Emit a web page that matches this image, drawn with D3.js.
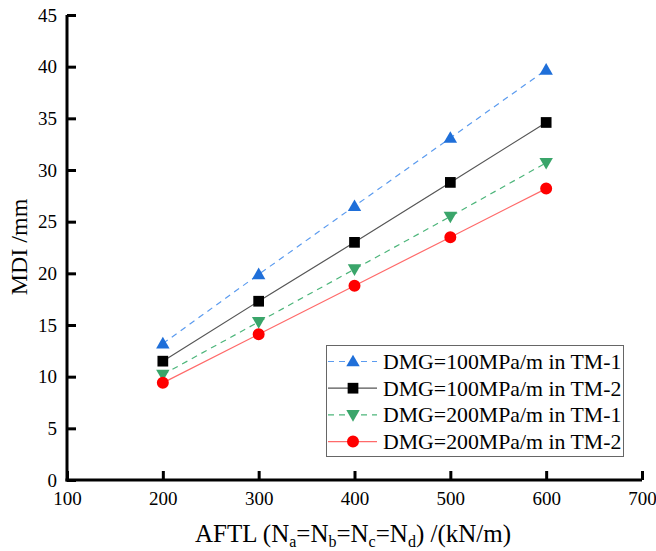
<!DOCTYPE html>
<html><head><meta charset="utf-8">
<script src="https://cdn.jsdelivr.net/npm/d3@7"></script>
<style>body{margin:0;background:#fff;}svg{display:block;} svg text{font-family:"Liberation Serif","Times New Roman",serif;}</style>
</head><body>
<script>
const xValues = [200, 300, 400, 500, 600];
const seriesNames = ["DMG=100MPa/m in TM-1", "DMG=100MPa/m in TM-2", "DMG=200MPa/m in TM-1", "DMG=200MPa/m in TM-2"];
const s1 = [13.2, 19.9, 26.5, 33.1, 39.7];
const s2 = [11.5, 17.3, 23.0, 28.8, 34.6];
const s3 = [10.2, 15.3, 20.4, 25.5, 30.7];
const s4 = [9.4, 14.1, 18.8, 23.5, 28.2];
const xTicks = [100, 200, 300, 400, 500, 600, 700];
const yTicks = [0, 5, 10, 15, 20, 25, 30, 35, 40, 45];

const styles = [
  {line:"#5b9bef", marker:"#1f6fd9", dash:"6,5", shape:"tri"},
  {line:"#555555", marker:"#000000", dash:null, shape:"sq"},
  {line:"#4cb57a", marker:"#3aa56a", dash:"6,5", shape:"tridown"},
  {line:"#ff6a6a", marker:"#ff0000", dash:null, shape:"circ"}
];
const allSeries = [s1, s2, s3, s4];

const W = 656, H = 551;
const svg = d3.select("body").append("svg").attr("width", W).attr("height", H);

const x = d3.scaleLinear().domain([100, 700]).range([67, 642]);
const y = d3.scaleLinear().domain([0, 45]).range([480, 15]);

function sym(shape){
  const m = {tri:[d3.symbolTriangle, 78], sq:[d3.symbolSquare, 115], tridown:[d3.symbolTriangle, 78], circ:[d3.symbolCircle, 113]};
  return d3.symbol().type(m[shape][0]).size(m[shape][1])();
}
function symT(shape, cx, cy){
  const dy = shape === "tri" ? 1 : shape === "tridown" ? -1 : 0;
  return `translate(${cx},${cy + dy})` + (shape === "tridown" ? " rotate(180)" : "");
}

// lines
allSeries.forEach((vals, i) => {
  const st = styles[i];
  const line = d3.line().x((d, j) => x(xValues[j])).y(d => y(d));
  svg.append("path").attr("d", line(vals)).attr("fill", "none")
    .attr("stroke", st.line).attr("stroke-width", 1.2)
    .attr("stroke-dasharray", st.dash);
});
// markers
allSeries.forEach((vals, i) => {
  const st = styles[i];
  svg.selectAll(null).data(vals).enter().append("path")
    .attr("d", sym(st.shape))
    .attr("transform", (d, j) => symT(st.shape, x(xValues[j]), y(d)))
    .attr("fill", st.marker);
});

// axes
const xAxis = svg.append("g").attr("transform", "translate(0,480)")
  .call(d3.axisBottom(x).tickValues(xTicks).tickSize(-9).tickPadding(12).tickSizeOuter(0));
const yAxis = svg.append("g").attr("transform", "translate(67,0)")
  .call(d3.axisLeft(y).tickValues(yTicks).tickSize(-9).tickPadding(10).tickSizeOuter(0));
[xAxis, yAxis].forEach(g => {
  g.attr("font-family", null).attr("font-size", null);
  g.select(".domain").attr("stroke", "#000").attr("stroke-width", 3);
  g.selectAll(".tick line").attr("stroke", "#000").attr("stroke-width", 3);
  g.selectAll(".tick text").style("font-size", "19px").attr("fill", "#000");
});
xAxis.select(".domain").attr("d", "M65.5,0H642");
yAxis.select(".domain").attr("d", "M0,481.5V15");

// axis titles
const xt = svg.append("text").attr("x", 353).attr("y", 541.5).attr("text-anchor", "middle")
  .style("font-size", "25px").attr("fill", "#000");
const parts = [["AFTL (N",""],["a","sub"],["=N",""],["b","sub"],["=N",""],["c","sub"],["=N",""],["d","sub"],[") /(kN/m)",""]];
let prevSub = false;
parts.forEach(p => {
  const t = xt.append("tspan").text(p[0]);
  if (p[1] === "sub") { t.style("font-size", "16px").attr("dy", 5); prevSub = true; }
  else if (prevSub) { t.attr("dy", -5); prevSub = false; }
});
svg.append("text").attr("transform", "translate(27,247) rotate(-90)").attr("text-anchor", "middle")
  .style("font-size", "24px").attr("fill", "#000").text("MDI /mm");

// legend
const lg = svg.append("g");
lg.append("rect").attr("x", 326.5).attr("y", 345.5).attr("width", 297).attr("height", 111)
  .attr("fill", "#fff").attr("stroke", "#666").attr("stroke-width", 1);
seriesNames.forEach((name, i) => {
  const st = styles[i];
  const yy = 361.5 + i * 26.7;
  lg.append("line").attr("x1", 328).attr("x2", 377).attr("y1", yy).attr("y2", yy)
    .attr("stroke", st.line).attr("stroke-width", 1.2).attr("stroke-dasharray", st.dash);
  lg.append("path").attr("d", sym(st.shape))
    .attr("transform", symT(st.shape, 353, yy))
    .attr("fill", st.marker);
  lg.append("text").attr("x", 383).attr("y", yy + 7.5).style("font-size", "21.8px")
    .attr("fill", "#000").text(name);
});
</script>
</body></html>
